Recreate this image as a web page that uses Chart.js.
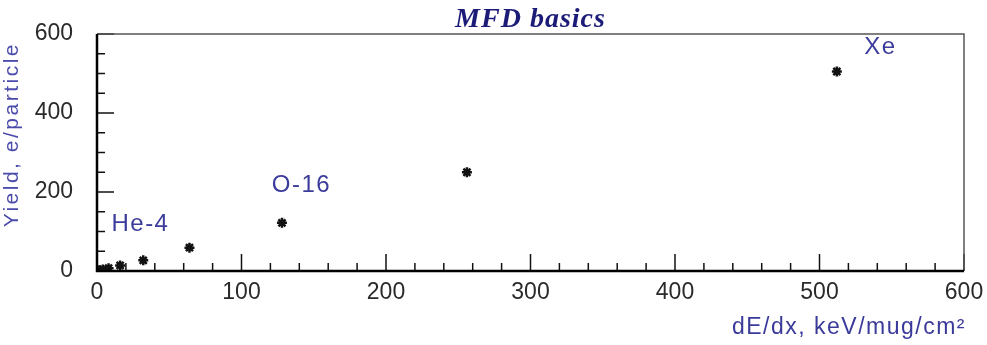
<!DOCTYPE html>
<html>
<head>
<meta charset="utf-8">
<script src="https://cdn.jsdelivr.net/npm/chart.js@4"></script>
<style>
  html, body { margin: 0; padding: 0; background: #ffffff; }
  #wrap { width: 987px; height: 345px; }
</style>
</head>
<body>
<div id="wrap"><canvas id="mfdChart" width="987" height="345"></canvas></div>
<script>
// measured points: stopping power vs. yield
const dedx = [1, 2, 4, 8, 16, 32, 64, 128, 256, 512];
const yieldPerParticle = [1, 2, 4, 7, 14, 27, 59, 122, 250, 505];

// ion name labels, placed in data coordinates (left edge, vertical middle)
const ionNames = ['He-4', 'O-16', 'Xe'];
const ionLabelX = [10, 121, 531];
const ionLabelY = [119, 218, 565];

const xTickMajor = 100;
const yTickMajor = 200;

const chartTitle = 'MFD basics';
const xTitle = 'dE/dx, keV/mug/cm²';
const yTitle = 'Yield, e/particle';

const points = dedx.map((x, i) => ({ x: x, y: yieldPerParticle[i] }));

const SANS = '"Liberation Sans", Arial, sans-serif';

// frame, inward tick marks, titles and labels, ROOT style
const frameTicks = {
    id: 'frameTicks',
    afterDatasetsDraw(chart) {
        const { ctx, chartArea: a, scales } = chart;
        ctx.save();

        ctx.strokeStyle = '#111';
        ctx.lineWidth = 1.5;
        scales.x.ticks.forEach(t => {
            const px = scales.x.getPixelForValue(t.value);
            const len = t.value % xTickMajor === 0 ? 17 : 8;
            ctx.beginPath();
            ctx.moveTo(px, a.bottom);
            ctx.lineTo(px, a.bottom - len);
            ctx.stroke();
        });
        scales.y.ticks.forEach(t => {
            const py = scales.y.getPixelForValue(t.value);
            const len = t.value % yTickMajor === 0 ? 17 : 8;
            ctx.beginPath();
            ctx.moveTo(a.left, py);
            ctx.lineTo(a.left + len, py);
            ctx.stroke();
        });

        // top and right edges, lighter
        ctx.strokeStyle = '#555';
        ctx.lineWidth = 1.5;
        ctx.beginPath();
        ctx.moveTo(a.left, a.top);
        ctx.lineTo(a.right, a.top);
        ctx.lineTo(a.right, a.bottom);
        ctx.stroke();

        // left and bottom axes
        ctx.strokeStyle = '#000';
        ctx.lineWidth = 2.5;
        ctx.beginPath();
        ctx.moveTo(a.left, a.top);
        ctx.lineTo(a.left, a.bottom);
        ctx.lineTo(a.right, a.bottom);
        ctx.stroke();

        // ion labels
        ctx.fillStyle = '#3c3c9c';
        ctx.font = '24px ' + SANS;
        ctx.textBaseline = 'middle';
        ctx.textAlign = 'left';
        ctx.letterSpacing = '1.5px';
        ionNames.forEach((name, i) => {
            ctx.fillText(name,
                scales.x.getPixelForValue(ionLabelX[i]),
                scales.y.getPixelForValue(ionLabelY[i]));
        });

        // chart title
        ctx.letterSpacing = '1px';
        ctx.fillStyle = '#1c1c78';
        ctx.font = 'italic bold 28px "Liberation Serif", "Times New Roman", serif';
        ctx.textAlign = 'center';
        ctx.fillText(chartTitle, (a.left + a.right) / 2, 20);

        // x axis title, flush with the right edge
        ctx.letterSpacing = '1.5px';
        ctx.fillStyle = '#3a3a9a';
        ctx.font = '23px ' + SANS;
        ctx.textAlign = 'right';
        ctx.fillText(xTitle, a.right + 2, 328);

        // y axis title, rotated, flush with the top
        ctx.letterSpacing = '2.5px';
        ctx.fillStyle = '#4b4bab';
        ctx.font = '21px ' + SANS;
        ctx.translate(12, a.top + 8);
        ctx.rotate(-Math.PI / 2);
        ctx.textAlign = 'right';
        ctx.fillText(yTitle, 0, 0);
        ctx.restore();
    }
};

// pin the axis boxes so the plot frame lands where it should
function pinScale(s, size) {
    if (s.isHorizontal()) {
        s.height = size;
    } else {
        s.width = size;
    }
    s.paddingTop = 0;
    s.paddingBottom = 0;
    s.paddingLeft = 0;
    s.paddingRight = 0;
}

const ctx = document.getElementById('mfdChart').getContext('2d');
new Chart(ctx, {
    type: 'scatter',
    data: {
        datasets: [{
            label: 'Yield',
            data: points,
            pointStyle: 'star',
            radius: 5,
            borderWidth: 2.5,
            borderColor: '#111',
            backgroundColor: '#111'
        }]
    },
    options: {
        responsive: false,
        animation: false,
        layout: { padding: { left: 0, right: 23, top: 34, bottom: 0 } },
        plugins: {
            legend: { display: false },
            tooltip: { enabled: false },
            title: { display: false }
        },
        scales: {
            x: {
                type: 'linear',
                min: 0,
                max: 600,
                grid: { display: false, drawTicks: false },
                border: { display: false },
                afterFit: s => pinScale(s, 74),
                ticks: {
                    stepSize: 20,
                    autoSkip: false,
                    maxRotation: 0,
                    padding: 8,
                    color: '#2a2a2a',
                    font: { family: SANS, size: 23 },
                    callback: v => (v % xTickMajor === 0 ? String(v) : '')
                }
            },
            y: {
                type: 'linear',
                min: 0,
                max: 600,
                grid: { display: false, drawTicks: false },
                border: { display: false },
                afterFit: s => pinScale(s, 97),
                ticks: {
                    stepSize: 50,
                    autoSkip: false,
                    padding: 24,
                    color: '#2a2a2a',
                    font: { family: SANS, size: 23 },
                    callback: v => (v % yTickMajor === 0 ? String(v) : '')
                }
            }
        }
    },
    plugins: [frameTicks]
});
</script>
</body>
</html>
